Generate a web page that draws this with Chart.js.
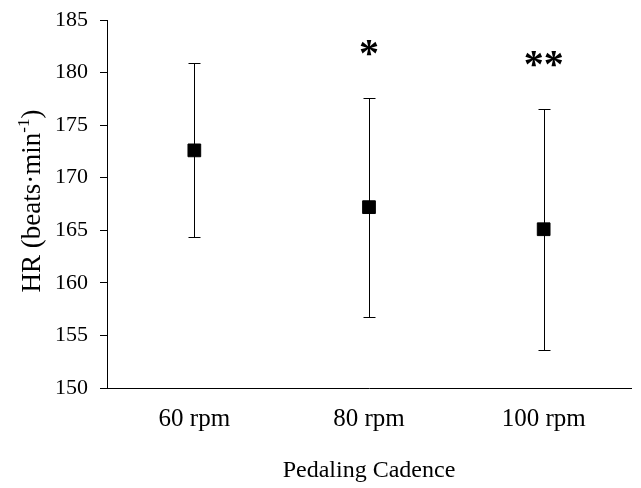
<!DOCTYPE html>
<html>
<head>
<meta charset="utf-8">
<script src="https://cdn.jsdelivr.net/npm/chart.js@4.4.1/dist/chart.umd.min.js"></script>
<style>
  html, body { margin: 0; padding: 0; background: #fff; }
  #wrap { width: 641px; height: 488px; }
</style>
</head>
<body>
<div id="wrap"><canvas id="grafica" width="641" height="488"></canvas></div>
<script>
// datos
const cadencias = ['60 rpm', '80 rpm', '100 rpm']
const fcMedia = [172.6, 167.2, 165.1]
const fcSuperior = [180.9, 177.6, 176.5]
const fcInferior = [164.4, 156.8, 153.6]
const marcas = ['', '*', '**']
const ticksY = [150, 155, 160, 165, 170, 175, 180, 185]

const serif = '"Liberation Serif", "Times New Roman", serif'

// barras de error + asteriscos
const barrasError = {
    id: 'barrasError',
    beforeDatasetsDraw(chart) {
        const ctx = chart.ctx
        const x = chart.scales.x
        const y = chart.scales.y
        ctx.save()
        ctx.strokeStyle = '#000'
        ctx.lineWidth = 1
        for (let i = 0; i < cadencias.length; i++) {
            const px = Math.round(x.getPixelForValue(i)) + 0.5
            const arriba = Math.round(y.getPixelForValue(fcSuperior[i])) + 0.5
            const abajo = Math.round(y.getPixelForValue(fcInferior[i])) + 0.5
            ctx.beginPath()
            ctx.moveTo(px, arriba)
            ctx.lineTo(px, abajo)
            ctx.moveTo(px - 6, arriba)
            ctx.lineTo(px + 6, arriba)
            ctx.moveTo(px - 6, abajo)
            ctx.lineTo(px + 6, abajo)
            ctx.stroke()
        }
        ctx.restore()
    },
    afterDraw(chart) {
        const ctx = chart.ctx
        const x = chart.scales.x
        const y = chart.scales.y
        const area = chart.chartArea
        ctx.save()
        ctx.fillStyle = '#000'

        // asteriscos
        ctx.font = 'bold 40px ' + serif
        ctx.textAlign = 'center'
        ctx.textBaseline = 'alphabetic'
        for (let i = 0; i < marcas.length; i++) {
            if (!marcas[i]) continue
            const m = ctx.measureText(marcas[i])
            const cy = y.getPixelForValue(fcSuperior[i]) - 50
            ctx.fillText(marcas[i], x.getPixelForValue(i), cy + (m.actualBoundingBoxAscent - m.actualBoundingBoxDescent) / 2)
        }

        // titulo eje x
        ctx.font = '24px ' + serif
        ctx.textBaseline = 'middle'
        ctx.fillText('Pedaling Cadence', (area.left + area.right) / 2, 471)

        // titulo eje y con superindice
        const principal = 'HR (beats\u00B7min'
        const sup = '-1'
        const cierre = ')'
        ctx.font = '27px ' + serif
        const w1 = ctx.measureText(principal).width
        const w3 = ctx.measureText(cierre).width
        ctx.font = '17px ' + serif
        const w2 = ctx.measureText(sup).width
        const total = w1 + w2 + w3
        ctx.translate(31, 201)
        ctx.rotate(-Math.PI / 2)
        ctx.textAlign = 'left'
        ctx.textBaseline = 'alphabetic'
        let pos = -total / 2
        ctx.font = '27px ' + serif
        ctx.fillText(principal, pos, 9)
        pos += w1
        ctx.font = '17px ' + serif
        ctx.fillText(sup, pos, -2)
        pos += w2
        ctx.font = '27px ' + serif
        ctx.fillText(cierre, pos, 9)
        ctx.restore()
    }
}

const grafica = new Chart(document.getElementById('grafica'), {
    type: 'line',
    data: {
        labels: cadencias,
        datasets: [{
            label: 'HR',
            data: fcMedia,
            showLine: false,
            pointStyle: 'rect',
            pointRadius: 9,
            pointHoverRadius: 9,
            pointBackgroundColor: '#000',
            pointBorderColor: '#000',
            pointBorderWidth: 1
        }]
    },
    options: {
        responsive: false,
        devicePixelRatio: 1,
        animation: false,
        events: [],
        layout: { padding: { top: 20, right: 8, left: 0, bottom: 0 } },
        plugins: {
            legend: { display: false },
            tooltip: { enabled: false },
            title: { display: false }
        },
        scales: {
            x: {
                type: 'category',
                offset: true,
                grid: { display: true, drawOnChartArea: false, drawTicks: false },
                border: { display: true, color: '#000', width: 1 },
                ticks: {
                    color: '#000',
                    padding: 16,
                    font: { family: serif, size: 25 }
                },
                afterFit(scale) { scale.height = 100 }
            },
            y: {
                min: 150,
                max: 185,
                afterBuildTicks(scale) { scale.ticks = ticksY.map(v => ({ value: v })) },
                grid: { display: true, drawOnChartArea: false, tickLength: 7, color: '#000' },
                border: { display: true, color: '#000', width: 1 },
                ticks: {
                    color: '#000',
                    padding: 12,
                    font: { family: serif, size: 22 }
                },
                afterFit(scale) {
                    scale.width = 107
                    scale.paddingTop = 0
                    scale.paddingBottom = 0
                }
            }
        }
    },
    plugins: [barrasError]
})
</script>
</body>
</html>
